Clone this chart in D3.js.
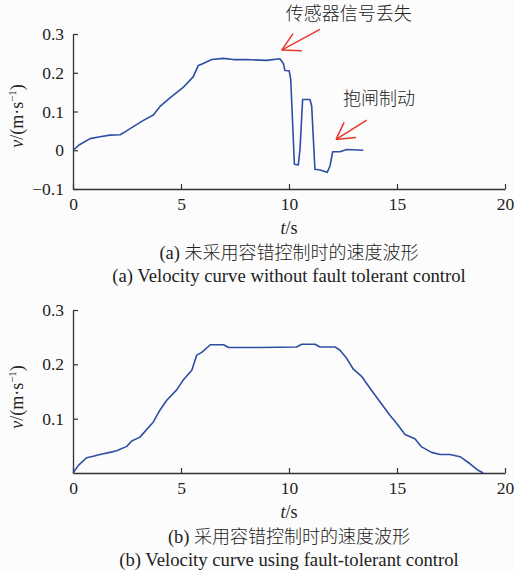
<!DOCTYPE html>
<html>
<head>
<meta charset="utf-8">
<script src="https://cdn.jsdelivr.net/npm/d3@7"></script>
<style>
  body { margin: 0; background: #fcfcfc; }
  svg { display: block; }
  text { font-family: "Liberation Serif", "Times New Roman", serif; fill: #222; }
  .cjk { font-family: "Noto Sans CJK SC", sans-serif; font-weight: 300; }
</style>
</head>
<body>
<svg id="chart" width="514" height="570"></svg>
<script>
// (a) without fault tolerant control
const timeA = [0, 0.32, 0.79, 1.25, 1.71, 2.18, 2.48, 2.79, 3.26, 3.72, 4.03, 4.49, 5.1, 5.57, 5.8, 6.03, 6.42, 6.96, 7.42, 8.04, 8.97, 9.58, 9.74, 9.81, 10.01, 10.08, 10.25, 10.43, 10.51, 10.63, 10.97, 11.05, 11.2, 11.44, 11.77, 11.9, 12.02, 12.36, 12.67, 13.44];
const velA = [0, 0.015, 0.03, 0.035, 0.039, 0.04, 0.05, 0.061, 0.077, 0.091, 0.113, 0.135, 0.162, 0.19, 0.219, 0.224, 0.234, 0.237, 0.234, 0.234, 0.232, 0.236, 0.224, 0.206, 0.205, 0.183, -0.036, -0.038, 0.003, 0.131, 0.131, 0.114, -0.049, -0.051, -0.057, -0.04, -0.004, -0.004, 0.002, 0.0];

// (b) using fault-tolerant control
const timeB = [0, 0.25, 0.63, 0.94, 1.25, 1.71, 2.02, 2.49, 2.72, 3.1, 3.72, 4.03, 4.34, 4.8, 5.1, 5.5, 5.73, 5.96, 6.36, 6.97, 7.2, 8.66, 10.35, 10.59, 11.2, 11.44, 12.13, 12.36, 12.67, 12.98, 13.36, 13.75, 14.21, 14.68, 14.99, 15.37, 15.83, 16.14, 16.6, 16.99, 17.45, 17.92, 18.38, 18.76, 18.99];
const velB = [0, 0.014, 0.028, 0.031, 0.034, 0.038, 0.041, 0.049, 0.059, 0.066, 0.094, 0.116, 0.134, 0.153, 0.171, 0.189, 0.217, 0.222, 0.236, 0.236, 0.231, 0.231, 0.232, 0.237, 0.237, 0.232, 0.232, 0.226, 0.211, 0.191, 0.178, 0.156, 0.131, 0.106, 0.091, 0.071, 0.063, 0.048, 0.038, 0.034, 0.034, 0.03, 0.017, 0.005, 0];

const xTicks = [0, 5, 10, 15, 20];
const yTicksA = [-0.1, 0, 0.1, 0.2, 0.3];
const yTicksB = [0.1, 0.2, 0.3];

const svg = d3.select('#chart');
const lineColor = '#2c4fa3';
const red = '#e8372c';

function panel(cfg) {
    const x = d3.scaleLinear().domain([0, 20]).range([73, 505]);
    const y = d3.scaleLinear().domain(cfg.yDomain).range([cfg.bottom, cfg.top]);
    const g = svg.append('g');

    // axes (ticks pointing inward)
    g.append('g')
        .attr('transform', 'translate(0,' + cfg.bottom + ')')
        .call(d3.axisBottom(x).tickValues(xTicks).tickSizeInner(-5).tickSizeOuter(0).tickPadding(9))
        .call(a => a.select('.domain').attr('stroke', '#333').attr('stroke-width', 1.3))
        .call(a => a.selectAll('.tick line').attr('stroke', '#333').attr('stroke-width', 1.2))
        .call(a => a.selectAll('.tick text').attr('font-size', 17.5).attr('font-family', 'Liberation Serif').attr('fill', '#222'));

    g.append('g')
        .attr('transform', 'translate(73,0)')
        .call(d3.axisLeft(y).tickValues(cfg.yTicks).tickSizeInner(-5).tickSizeOuter(0).tickPadding(9)
            .tickFormat(d => d === 0 ? '0' : d3.format('.1f')(d).replace('-', '\u2212')))
        .call(a => a.select('.domain').attr('stroke', '#333').attr('stroke-width', 1.3))
        .call(a => a.selectAll('.tick line').attr('stroke', '#333').attr('stroke-width', 1.2))
        .call(a => a.selectAll('.tick text').attr('font-size', 17.5).attr('font-family', 'Liberation Serif').attr('fill', '#222'));

    // data line
    const pts = cfg.t.map((t, i) => [t, cfg.v[i]]);
    g.append('path')
        .datum(pts)
        .attr('fill', 'none')
        .attr('stroke', lineColor)
        .attr('stroke-width', 1.6)
        .attr('stroke-linejoin', 'round')
        .attr('d', d3.line().x(d => x(d[0])).y(d => y(d[1])));

    // y label
    const yl = g.append('text')
        .attr('transform', 'translate(23,' + cfg.yLabelY + ') rotate(-90)')
        .attr('text-anchor', 'middle')
        .attr('font-size', 18);
    yl.append('tspan').attr('font-style', 'italic').text('v');
    yl.append('tspan').text('/(m\u00b7s');
    yl.append('tspan').attr('font-size', 11).attr('dy', -7).text('\u22121');
    yl.append('tspan').attr('dy', 7).text(')');

    // x label
    const xl = g.append('text')
        .attr('x', 289).attr('y', cfg.bottom + 45)
        .attr('text-anchor', 'middle')
        .attr('font-size', 18);
    xl.append('tspan').attr('font-style', 'italic').text('t');
    xl.append('tspan').text('/s');

    // captions
    const c1 = g.append('text')
        .attr('x', 289).attr('y', cfg.bottom + 70)
        .attr('text-anchor', 'middle')
        .attr('font-size', 18.5);
    c1.append('tspan').text(cfg.tag + ' ');
    c1.append('tspan').attr('class', 'cjk').attr('font-size', 18).text(cfg.captionZh);

    g.append('text')
        .attr('x', 289).attr('y', cfg.bottom + 93)
        .attr('text-anchor', 'middle')
        .attr('font-size', 18.7)
        .text(cfg.captionEn);

    return { x, y };
}

const a = panel({
    top: 34, bottom: 189, yDomain: [-0.1, 0.3], yTicks: yTicksA,
    t: timeA, v: velA, yLabelY: 116, tag: '(a)',
    captionZh: '未采用容错控制时的速度波形',
    captionEn: '(a) Velocity curve without fault tolerant control'
});

panel({
    top: 310, bottom: 473, yDomain: [0, 0.3], yTicks: yTicksB,
    t: timeB, v: velB, yLabelY: 397, tag: '(b)',
    captionZh: '采用容错控制时的速度波形',
    captionEn: '(b) Velocity curve using fault-tolerant control'
});

// annotations on panel (a): arrow [tail, tip, head1, head2] in data units
const notes = [
    { text: '传感器信号丢失', tx: 9.85, ty: 0.335, arrow: [[11.43, 0.312], [9.66, 0.2585], [10.59, 0.257], [10.19, 0.301]] },
    { text: '抱闸制动', tx: 12.5, ty: 0.118, arrow: [[13.6, 0.078], [12.18, 0.028], [13.1, 0.033], [12.55, 0.072]] }
];

notes.forEach(n => {
    svg.append('text')
        .attr('class', 'cjk')
        .attr('x', a.x(n.tx)).attr('y', a.y(n.ty))
        .attr('font-size', 18)
        .attr('fill', '#333')
        .text(n.text);
    const [tail, tip, h1, h2] = n.arrow;
    [[tail, tip], [h1, tip], [h2, tip]].forEach(s => {
        svg.append('line')
            .attr('x1', a.x(s[0][0])).attr('y1', a.y(s[0][1]))
            .attr('x2', a.x(s[1][0])).attr('y2', a.y(s[1][1]))
            .attr('stroke', red).attr('stroke-width', 1.5);
    });
});
</script>
</body>
</html>
